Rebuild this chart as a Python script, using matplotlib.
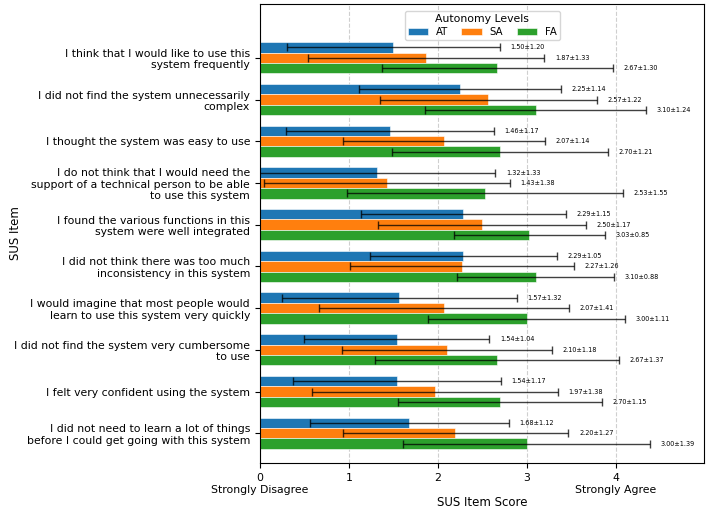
import numpy as np
import matplotlib
matplotlib.use("Agg")
import matplotlib.pyplot as plt

# --- Data ---
items = [
    "I think that I would like to use this\nsystem frequently",
    "I did not find the system unnecessarily\ncomplex",
    "I thought the system was easy to use",
    "I do not think that I would need the\nsupport of a technical person to be able\nto use this system",
    "I found the various functions in this\nsystem were well integrated",
    "I did not think there was too much\ninconsistency in this system",
    "I would imagine that most people would\nlearn to use this system very quickly",
    "I did not find the system very cumbersome\nto use",
    "I felt very confident using the system",
    "I did not need to learn a lot of things\nbefore I could get going with this system",
]
levels = ["AT", "SA", "FA"]
colors = ["#1f77b4", "#ff7f0e", "#2ca02c"]

at_mean = [1.50, 2.25, 1.46, 1.32, 2.29, 2.29, 1.57, 1.54, 1.54, 1.68]
at_std = [1.20, 1.14, 1.17, 1.33, 1.15, 1.05, 1.32, 1.04, 1.17, 1.12]
sa_mean = [1.87, 2.57, 2.07, 1.43, 2.50, 2.27, 2.07, 2.10, 1.97, 2.20]
sa_std = [1.33, 1.22, 1.14, 1.38, 1.17, 1.26, 1.41, 1.18, 1.38, 1.27]
fa_mean = [2.67, 3.10, 2.70, 2.53, 3.03, 3.10, 3.00, 2.67, 2.70, 3.00]
fa_std = [1.30, 1.24, 1.21, 1.55, 0.85, 0.88, 1.11, 1.37, 1.15, 1.39]

means = [at_mean, sa_mean, fa_mean]
stds = [at_std, sa_std, fa_std]

# --- Plot ---
fig, ax = plt.subplots(figsize=(7.08, 5.08), dpi=100)
y = np.arange(len(items))
h = 0.25

for i, lvl in enumerate(levels):
    pos = y + (i - 1) * h
    ax.barh(pos, means[i], height=h, color=colors[i], edgecolor="white",
            linewidth=0.4, label=lvl)
    ax.errorbar(means[i], pos, xerr=stds[i], fmt="none", ecolor="black",
                elinewidth=1, capsize=3, alpha=0.75)
    for m, s, p in zip(means[i], stds[i], pos):
        ax.text(m + s + 0.12, p, f"{m:.2f}±{s:.2f}", va="center", fontsize=4.7)

ax.set_yticks(y)
ax.set_yticklabels(items, fontsize=7.8)
ax.set_ylim(9.72, -1.3)
ax.set_xlim(0, 5)
ax.set_xticks([0, 1, 2, 3, 4])
ax.set_xticklabels(["0\nStrongly Disagree", "1", "2", "3", "4\nStrongly Agree"], fontsize=7.8)
ax.set_xlabel("SUS Item Score", fontsize=8.5, labelpad=1)
ax.set_ylabel("SUS Item", fontsize=8.5)
ax.yaxis.set_label_coords(-0.535, 0.5)
ax.grid(axis="x", linestyle="--", alpha=0.6)
ax.set_axisbelow(True)
ax.legend(title="Autonomy Levels", ncol=3, loc="upper center", fontsize=7.3,
          title_fontsize=7.8, columnspacing=1.3, borderpad=0.3,
          labelspacing=0.3, bbox_to_anchor=(0.5, 0.995))

plt.subplots_adjust(left=0.367, right=0.995, top=0.993, bottom=0.088)
plt.savefig("out.png", dpi=100)
